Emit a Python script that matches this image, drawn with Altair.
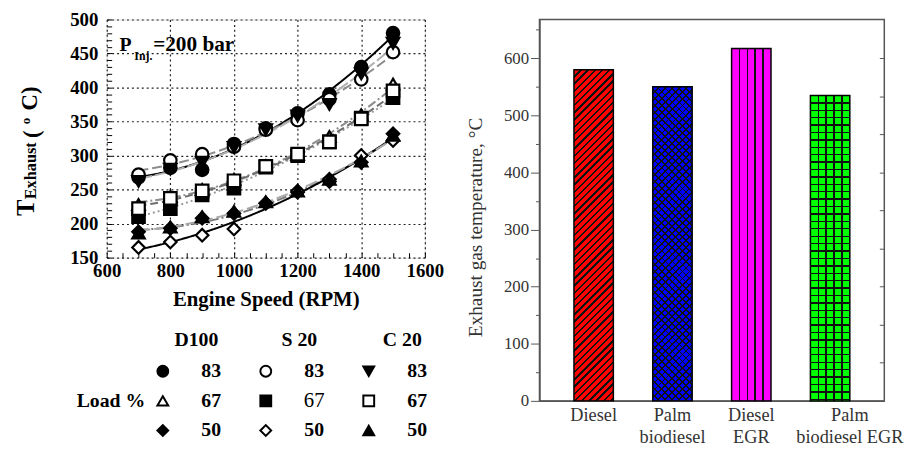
import altair as alt
import pandas as pd

# ---------------- data: left panel ----------------
rpm = [700, 800, 900, 1000, 1100, 1200, 1300, 1400, 1500]
d100_83 = [268, 282, 279, 317, 340, 362, 390, 430, 480]
s20_83 = [272, 293, 302, 313, 338, 352, 383, 412, 452]
c20_83 = [262, 280, 290, 312, 338, 358, 375, 420, 465]
d100_67 = [228, 240, 250, 265, 285, 302, 328, 360, 405]
s20_67 = [210, 222, 242, 252, 283, 300, 320, 355, 385]
c20_67 = [222, 237, 248, 263, 284, 302, 320, 354, 395]
d100_50 = [188, 193, 208, 215, 230, 246, 262, 290, 332]
s20_50 = [165, 173, 183, 192, 230, 248, 265, 300, 322]
c20_50 = [186, 195, 210, 218, 232, 248, 265, 292, 330]

fuels = ["D100", "S 20", "C 20"]
loads = ["83", "67", "50"]
x_ticks = list(range(600, 1601, 50))      # labelled every 200
y_ticks = list(range(150, 501, 10))       # labelled every 50

# ---------------- data: right panel ----------------
categories = ["Diesel", "Palm|biodiesel", "Diesel|EGR", "Palm|biodiesel EGR"]
temps = [580, 550, 617, 535]
bar_ticks = list(range(0, 651, 50))       # labelled every 100
right_ticks = [66.7, 133.3, 200, 266.7, 333.3, 400, 466.7, 533.3, 600]

# ---------------- styling tables ----------------
series_vals = {
    ("D100", "83"): d100_83, ("S 20", "83"): s20_83, ("C 20", "83"): c20_83,
    ("D100", "67"): d100_67, ("S 20", "67"): s20_67, ("C 20", "67"): c20_67,
    ("D100", "50"): d100_50, ("S 20", "50"): s20_50, ("C 20", "50"): c20_50,
}
style = {
    ("D100", "83"): ("circle", "black", "black", [1, 0]),
    ("S 20", "83"): ("circle", "white", "#8c8c8c", [10, 4]),
    ("C 20", "83"): ("triangle-down", "black", "#b0b0b0", [14, 3]),
    ("D100", "67"): ("triangle-up", "white", "#8c8c8c", [9, 3, 2, 3]),
    ("S 20", "67"): ("square", "black", "#9a9a9a", [2, 3]),
    ("C 20", "67"): ("square", "white", "#6e6e6e", [8, 4]),
    ("D100", "50"): ("diamond", "black", "#7a7a7a", [10, 3, 2, 3]),
    ("S 20", "50"): ("diamond", "white", "black", [1, 0]),
    ("C 20", "50"): ("triangle-up", "black", "#a8a8a8", [12, 4]),
}
series_names = [f"{f} {l}" for l in loads for f in fuels]
keys = [(f, l) for l in loads for f in fuels]
shape_range = [style[k][0] for k in keys]
fill_range = [style[k][1] for k in keys]
line_color_range = [style[k][2] for k in keys]
dash_range = [style[k][3] for k in keys]

rows = []
for k, name in zip(keys, series_names):
    for r, t in zip(rpm, series_vals[k]):
        rows.append({"series": name, "rpm": r, "temp": t})
df = pd.DataFrame(rows)

legend_df = pd.DataFrame([{"series": f"{f} {l}", "fuel": f, "load": l} for (f, l) in keys])

SERIF = "Liberation Serif"

shape_scale = alt.Scale(domain=series_names, range=shape_range)
fill_scale = alt.Scale(domain=series_names, range=fill_range)

X = alt.X("rpm:Q", scale=alt.Scale(domain=[600, 1600], nice=False, zero=False),
          axis=alt.Axis(values=x_ticks, title="Engine Speed (RPM)", format="d",
                        labelExpr="datum.value % 200 == 0 ? datum.label : ''",
                        labelFont=SERIF, labelFontWeight="bold", labelFontSize=19, labelColor="black",
                        titleFont=SERIF, titleFontWeight="bold", titleFontSize=21, titleColor="black",
                        labelFlush=False, labelOverlap=False, domain=False,
                        tickSize=5, offset=-5, tickColor="black", tickWidth=1,
                        labelPadding=4, titlePadding=8,
                        grid=True, gridDash=[2, 3], gridColor="#222", gridWidth=1.2,
                        gridOpacity={"condition": {"test": "datum.value % 200 != 0", "value": 0}, "value": 1}))
Y = alt.Y("temp:Q", scale=alt.Scale(domain=[150, 500], nice=False, zero=False),
          axis=alt.Axis(values=y_ticks, title=None, format="d",
                        labelExpr="datum.value % 50 == 0 ? datum.label : ''",
                        labelFont=SERIF, labelFontWeight="bold", labelFontSize=19, labelColor="black",
                        labelFlush=False, labelOverlap=False, domain=False,
                        tickSize=5, offset=-5, tickColor="black", tickWidth=1,
                        labelPadding=9,
                        grid=True, gridDash=[2, 3], gridColor="#222", gridWidth=1.2,
                        gridOpacity={"condition": {"test": "datum.value % 50 != 0", "value": 0}, "value": 1}))

lines = alt.Chart(df).transform_regression(
    "rpm", "temp", groupby=["series"], method="poly", order=2
).mark_line(strokeWidth=2).encode(
    x=X, y=Y,
    color=alt.Color("series:N", scale=alt.Scale(domain=series_names, range=line_color_range), legend=None),
    strokeDash=alt.StrokeDash("series:N", scale=alt.Scale(domain=series_names, range=dash_range), legend=None),
)

points = alt.Chart(df).mark_point(filled=True, size=160, stroke="black", strokeWidth=2.2, opacity=1).encode(
    x=X, y=Y,
    shape=alt.Shape("series:N", scale=shape_scale, legend=None),
    fill=alt.Fill("series:N", scale=fill_scale, legend=None),
)

one = alt.Data(values=[{}])


def label(text, x, y, size, angle=0, weight="bold", color="black", baseline="alphabetic"):
    return alt.Chart(one).mark_text(
        text=text, font=SERIF, fontWeight=weight, fontSize=size, angle=angle,
        align="left", baseline=baseline, color=color
    ).encode(x=alt.value(x), y=alt.value(y))


annots = [
    label("P", 13, 32, 20),
    label("Inj.", 28, 41, 12),
    label("=200 bar", 47, 32, 21.5),
    label("T", -74, 199, 25, 270),
    label("Exhaust", -72, 182, 16.5, 270),
    label("(", -69, 120, 23, 270),
    label("o", -78, 106, 13, 270),
    label("C)", -71, 92, 23, 270),
]

left = alt.layer(lines, points, *annots).properties(width=322, height=241)

# ---------------- legend panel ----------------
LX = alt.X("fuel:N", scale=alt.Scale(type="point", domain=fuels, padding=0.545), axis=None)
LY = alt.Y("load:N", scale=alt.Scale(type="point", domain=loads, padding=0.5), axis=None)

leg_pts = alt.Chart(legend_df).mark_point(filled=True, size=120, stroke="black", strokeWidth=2, opacity=1).encode(
    x=LX, y=LY,
    shape=alt.Shape("series:N", scale=shape_scale, legend=None),
    fill=alt.Fill("series:N", scale=fill_scale, legend=None),
)
leg_num_bold = alt.Chart(legend_df).transform_filter(
    "datum.series != 'S 20 67'"
).mark_text(dx=49, font=SERIF, fontWeight="bold", fontSize=20, color="black").encode(
    x=LX, y=LY, text="load:N")
leg_num_reg = alt.Chart(legend_df).transform_filter(
    "datum.series == 'S 20 67'"
).mark_text(dx=49, font=SERIF, fontWeight="normal", fontSize=21, color="black").encode(
    x=LX, y=LY, text="load:N")
leg_head = alt.Chart(pd.DataFrame({"fuel": fuels})).mark_text(
    dx=34, font=SERIF, fontWeight="bold", fontSize=20, color="black"
).encode(x=LX, y=alt.value(-17), text="fuel:N")
leg_load = alt.Chart(one).mark_text(
    text="Load %", font=SERIF, fontWeight="bold", fontSize=20, align="right", color="black"
).encode(x=alt.value(39), y=alt.value(45))

legend = alt.layer(leg_pts, leg_num_bold, leg_num_reg, leg_head, leg_load).properties(
    width=322, height=90, view=alt.ViewBackground(stroke="transparent"))

left_col = alt.vconcat(left, legend, spacing=100, bounds="flush")

# ---------------- right panel (hatched bars) ----------------
R_W, R_H, DMAX = 349, 386, 668
step = R_W / (4 - 0.5 + 2 * 0.4375)
bw = step * 0.5


def stripe_stops(base, line, total, period, lw):
    stops = [{"offset": 0, "color": base}]
    k = 1
    while k * period < total:
        c = k * period
        a = round(max(0.0, (c - lw / 2) / total), 5)
        b = round(min(1.0, (c + lw / 2) / total), 5)
        stops += [{"offset": a, "color": base}, {"offset": a, "color": line},
                  {"offset": b, "color": line}, {"offset": b, "color": base}]
        k += 1
    stops.append({"offset": 1, "color": base})
    return stops


def diag(base, line, h, period, lw, flip=False):
    lam = (bw + h) / (bw * bw + h * h)
    g = {"gradient": "linear", "stops": stripe_stops(base, line, bw + h, period, lw)}
    if flip:
        g.update({"x1": 0, "y1": 1, "x2": bw * lam, "y2": 1 - h * lam})
    else:
        g.update({"x1": 0, "y1": 0, "x2": bw * lam, "y2": h * lam})
    return g


def vert(base, line, period, lw):
    return {"gradient": "linear", "x1": 0, "y1": 0, "x2": 1, "y2": 0,
            "stops": stripe_stops(base, line, bw, period, lw)}


def horiz(base, line, h, period, lw):
    return {"gradient": "linear", "x1": 0, "y1": 0, "x2": 0, "y2": 1,
            "stops": stripe_stops(base, line, h, period, lw)}


bar_df = pd.DataFrame({"cat": categories, "temp": temps})
heights = [v / DMAX * R_H for v in temps]
CLEAR = "rgba(0,0,0,0)"
INK = "#111111"

BX = alt.X("cat:N", sort=categories,
           scale=alt.Scale(domain=categories, paddingInner=0.5, paddingOuter=0.4375),
           axis=alt.Axis(title=None, labelExpr="split(datum.label, '|')", labelAngle=0, ticks=False,
                         labelFont=SERIF, labelFontSize=18.5, labelColor="#333", labelPadding=5,
                         labelLineHeight=22, domainColor="#555", domainWidth=1.5,
                         labelOffset={"condition": {"test": "datum.value == 'Palm|biodiesel EGR'", "value": 20},
                                      "value": 0}))
BY = alt.Y("temp:Q", scale=alt.Scale(domain=[0, DMAX], nice=False),
           axis=alt.Axis(values=bar_ticks, title="Exhaust gas temperature, °C", grid=False,
                         labelExpr="datum.value % 100 == 0 ? datum.label : ''",
                         labelFont=SERIF, labelFontSize=17, labelColor="#333",
                         tickSize={"condition": {"test": "datum.value % 100 != 0", "value": 4}, "value": 9},
                         labelPadding=2, tickColor="#555", domainColor="#555", domainWidth=1.5,
                         titleFont=SERIF, titleFontSize=19.5, titleFontWeight="normal", titleColor="#333",
                         titlePadding=18, titleY=210))

fills = [
    [diag("#ff0000", INK, heights[0], 7.3, 2.4)],
    [diag("#0000ff", INK, heights[1], 7.0, 1.8), diag(CLEAR, INK, heights[1], 7.0, 1.8, flip=True)],
    [vert("#ff00ff", INK, bw / 5, 1.6)],
    [vert("#00ff00", INK, bw / 5, 1.4), horiz(CLEAR, INK, heights[3], 7.5, 1.4)],
]

bar_layers = []
for cat, fl in zip(categories, fills):
    for i, f in enumerate(fl):
        bar_layers.append(
            alt.Chart(bar_df).transform_filter(alt.datum.cat == cat).mark_bar(
                fill=f, stroke="black" if i == 0 else CLEAR, strokeWidth=1.5
            ).encode(x=BX, y=BY)
        )
bars = alt.layer(*bar_layers)

right_axis = alt.Chart(bar_df).mark_bar(opacity=0).encode(
    x=BX,
    y=alt.Y("temp:Q", scale=alt.Scale(domain=[0, DMAX], nice=False),
            axis=alt.Axis(orient="right", values=right_ticks,
                          labels=False, title=None, domain=False, tickSize=5, offset=-5,
                          tickColor="#555", grid=False)),
)

spacer = label(".", 0, -10, 8, color="white", weight="normal", baseline="top")

right = alt.layer(bars, right_axis, spacer).resolve_axis(y="independent").properties(
    width=R_W, height=R_H, view=alt.ViewBackground(stroke="#555", strokeWidth=1.5))

chart = alt.hconcat(left_col, right, spacing=20).properties(
    padding={"left": 13, "top": 6, "right": 5, "bottom": 0}
).configure_view(stroke="black", strokeWidth=1.5).configure(background="white")

chart.save("out.html", embed_options={"renderer": "svg", "actions": False})
